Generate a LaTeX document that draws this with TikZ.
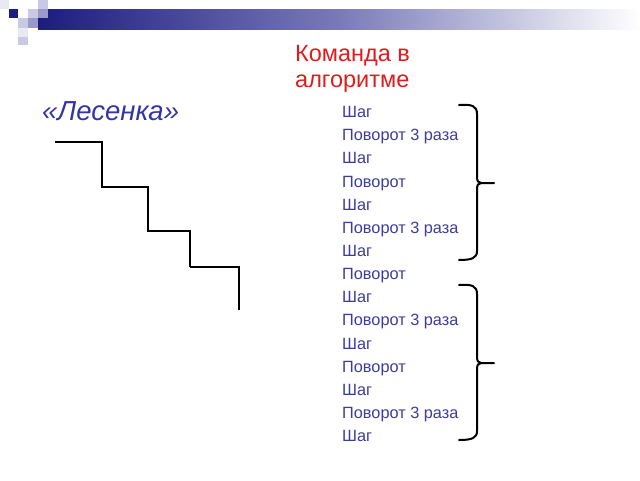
\documentclass[tikz,border=0pt]{standalone}
\usepackage{fontspec}
\setmainfont{Liberation Sans}
\usepackage{xcolor}
\usetikzlibrary{positioning}
\definecolor{hdrnavy}{HTML}{1C1C7E}
\definecolor{hdrmid}{HTML}{9999CC}
\definecolor{hdrlight}{HTML}{C9C9E6}
\definecolor{hdrpale}{HTML}{E9E9F1}
\definecolor{cmdblue}{HTML}{3C3C9E}
\definecolor{titleblue}{HTML}{3434A6}
\definecolor{headred}{HTML}{E01C1C}
\tikzset{
  cmd/.style={anchor=base west,inner sep=0pt,text=cmdblue,font=\fontsize{16.3}{18}\selectfont},
  heading/.style={anchor=base west,inner sep=0pt,text=headred,font=\fontsize{23.5}{26}\selectfont},
  title/.style={anchor=base west,inner sep=0pt,text=titleblue,font=\fontsize{27.5}{30}\selectfont\itshape},
  stairs/.style={line width=1.8pt,line join=miter},
  bracket/.style={line width=2pt,line cap=round}
}

\begin{document}
\begin{tikzpicture}[x=1pt,y=-1pt]
\useasboundingbox (0,0) rectangle (640,480);
% header bar and squares
\shade[left color=hdrnavy,right color=white,middle color=hdrmid!75!hdrnavy] (38,9) rectangle (640,29);
\fill[hdrpale] (0,0) rectangle (9,9);
\fill[hdrlight] (38,0) rectangle (48,9);
\fill[hdrnavy] (9,9) rectangle (18,18);
\fill[hdrlight] (28,9) rectangle (38,18);
\fill[hdrmid] (38,9) rectangle (48,18);
\fill[hdrlight] (18,18) rectangle (28,28);
\fill[hdrmid] (28,18) rectangle (38,28);
\fill[hdrpale] (18,28) rectangle (28,37);
\fill[hdrlight] (18,37) rectangle (28,45);
% titles
\node[title] (lesenka) at (42,120) {«Лесенка»};
\node[heading] (komanda) at (295,61) {Команда в};
\node[heading] (algoritm) at (295,87) {алгоритме};
% staircase
\draw[stairs] (55,142) -- (102,142) -- (102,187) -- (148,187) -- (148,231) -- (190,231) -- (190,267);
\draw[stairs,line width=2.6pt] (190,267) -- (239,267) -- (239,310);
% command list
\foreach \txt [count=\i from 0] in {Шаг,Поворот 3 раза,Шаг,Поворот,Шаг,Поворот 3 раза,Шаг,Поворот,Шаг,Поворот 3 раза,Шаг,Поворот,Шаг,Поворот 3 раза,Шаг}
  \node[cmd] (c\i) at (342,{117.7+23.14*\i}) {\txt};
% braces
\draw[bracket] (459,105) .. controls (472,104) and (477,106) .. (477,114) -- (477,176)
  .. controls (477,181) and (478,183) .. (481,183) -- (494,183);
\draw[bracket] (481,183) .. controls (478,183) and (477,185) .. (477,190) -- (477,251)
  .. controls (477,258) and (472,260) .. (459,260);
\draw[bracket] (459,285) .. controls (472,284) and (477,286) .. (477,294) -- (477,356)
  .. controls (477,361) and (478,363) .. (481,363) -- (494,363);
\draw[bracket] (481,363) .. controls (478,363) and (477,365) .. (477,370) -- (477,431)
  .. controls (477,438) and (472,440) .. (459,440);
\end{tikzpicture}
\end{document}
